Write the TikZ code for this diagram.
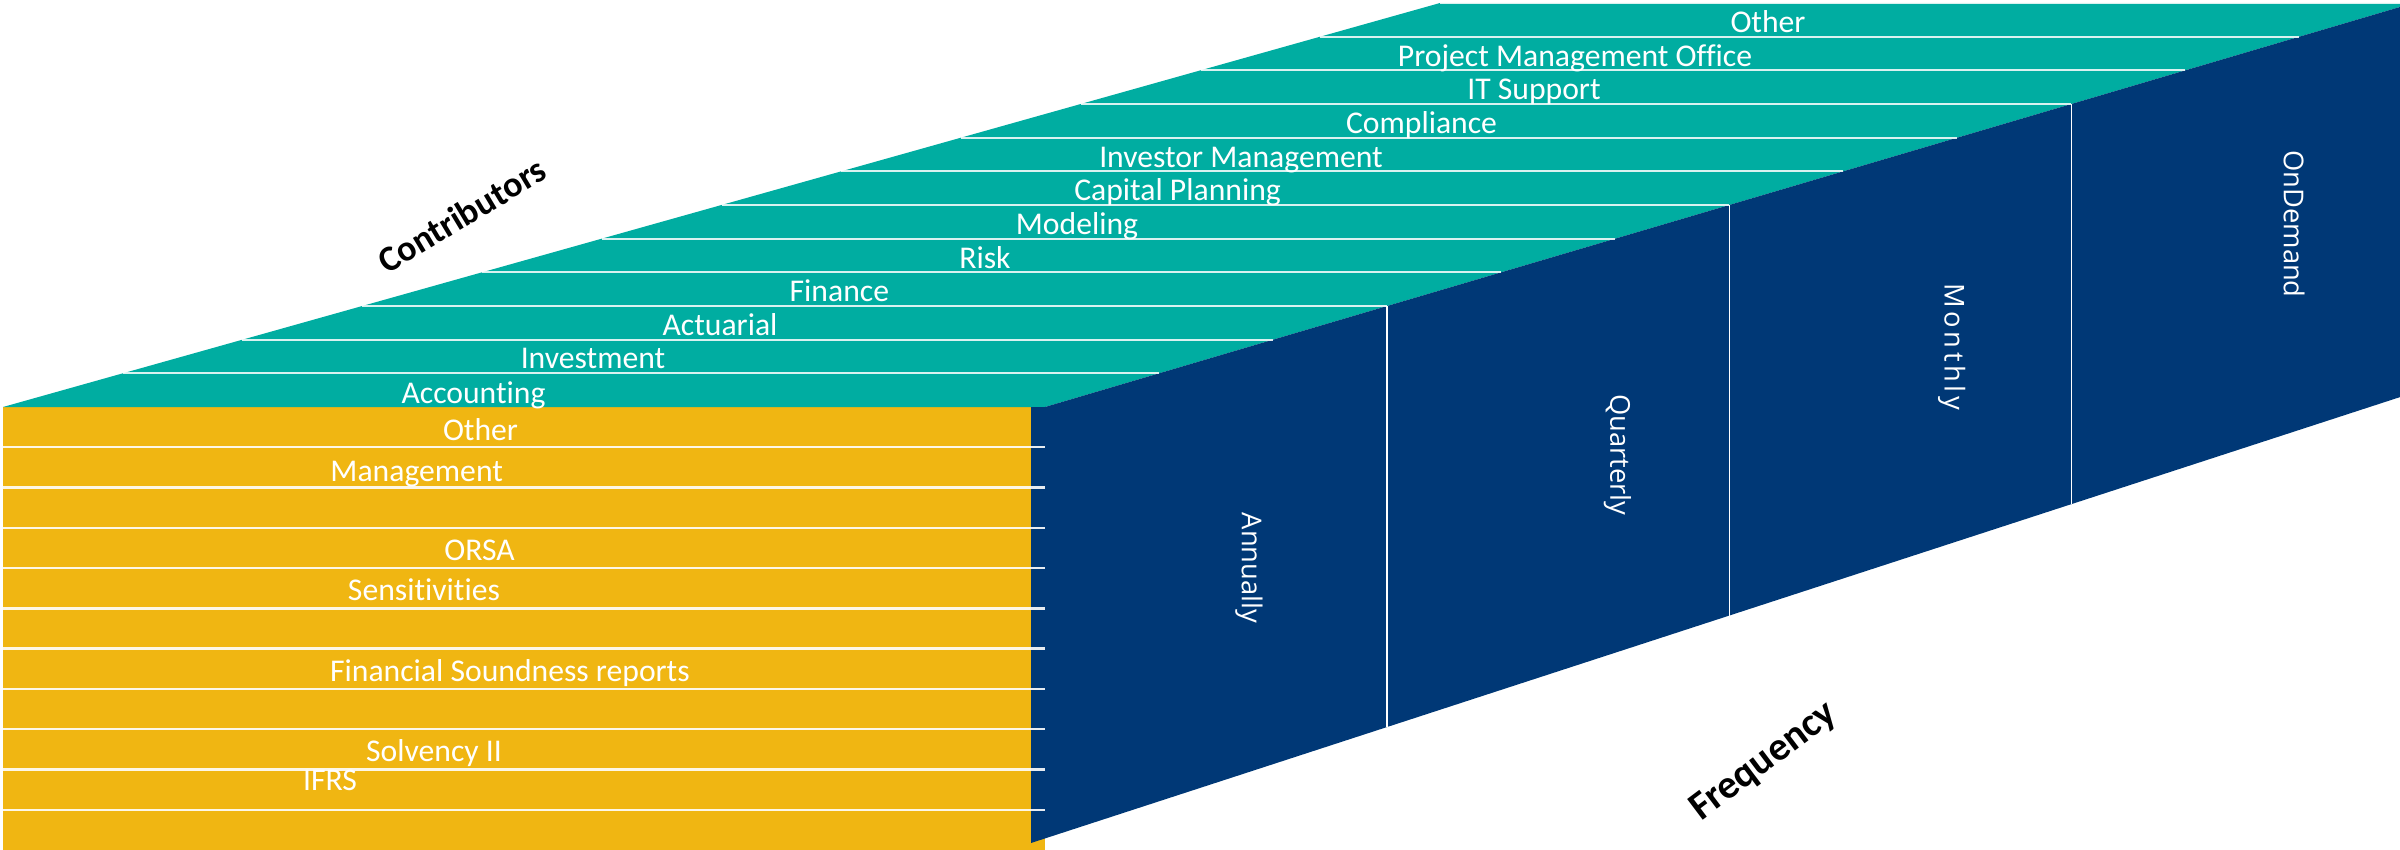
\documentclass[tikz,border=0pt]{standalone}
\usepackage{fontspec}
\setmainfont{Carlito}[Ligatures=NoCommon]
\newfontfamily\sidefont{Open Sans}
\usetikzlibrary{calc}
\definecolor{topteal}{RGB}{0,173,161}
\definecolor{sidenavy}{RGB}{0,56,118}
\definecolor{frontgold}{RGB}{240,182,18}
\begin{document}
\begin{tikzpicture}[x=0.3pt,y=-0.3pt,
  rowline/.style={white, opacity=0.85, line width=0.6pt},
  frontline/.style={white, opacity=0.9, line width=0.7pt},
  divline/.style={white, line width=0.4pt},
  facelabel/.style={text=white, font=\fontsize{9.5}{11}\selectfont, inner sep=0pt, anchor=base},
  sidelabel/.style={text=white, font=\sidefont\fontsize{8.2}{10}\selectfont, inner sep=0pt, rotate=-90},
  axislabel/.style={text=black, inner sep=0pt}]
\useasboundingbox (0,0) rectangle (2400,850);
\clip (0,0) rectangle (2400,850);

% corners of the block
\coordinate (FL) at (3,407);
\coordinate (FR) at (1045,407);
\coordinate (BL) at (1440,3);
\coordinate (BR) at (2413.5,3);
\coordinate (SL) at (1031,407);
\coordinate (SB) at (1031,843);
\coordinate (SF) at (1045,838.4);
\coordinate (SBR) at (2413.5,392.7);
\coordinate (YB) at (1045,850);

% faces
\fill[frontgold] (FL) rectangle (YB);
\fill[topteal] (FL) -- (FR) -- (BR) -- (BL) -- cycle;
\fill[sidenavy] (SL) -- (FR) -- (BR) -- (SBR) -- (SB) -- cycle;

% rows on the top face
\foreach \k in {1,...,12}
  \draw[rowline] ($(FL)!{\k/12}!(BL)$) -- ($(FR)!{\k/12}!(BR)$);

% frequency columns on the side face
\foreach \f in {0.25,0.5,0.75}
  \draw[divline] ($(FR)!\f!(BR)$) -- ($(SF)!\f!(SBR)$);

% rows on the front face
\foreach \k in {1,...,10}
  \draw[frontline] (3,{407+40.27*\k}) -- (1045,{407+40.27*\k});

% contributors (top face)
\node[facelabel] (c1) at (473.5,403) {Accounting};
\node[facelabel] (c2) at (593,368.9) {Investment};
\node[facelabel] (c3) at (720,335.2) {Actuarial};
\node[facelabel] (c4) at (839.4,301.6) {Finance};
\node[facelabel] (c5) at (985,268) {Risk};
\node[facelabel] (c6) at (1077,234.3) {Modeling};
\node[facelabel] (c7) at (1177.6,200.7) {Capital Planning};
\node[facelabel] (c8) at (1241,167) {Investor Management};
\node[facelabel] (c9) at (1421.5,133.4) {Compliance};
\node[facelabel] (c10) at (1534,99.8) {IT Support};
\node[facelabel] (c11) at (1575,66.1) {Project Management Office};
\node[facelabel] (c12) at (1768,32.5) {Other};

% reports (front face)
\node[facelabel] (r1) at (480.5,440) {Other};
\node[facelabel] (r2) at (416.7,481) {Management};
\node[facelabel] (r3) at (479.5,560.7) {ORSA};
\node[facelabel] (r4) at (424,600) {Sensitivities};
\node[facelabel] (r5) at (510,681.7) {Financial Soundness reports};
\node[facelabel] (r6) at (434,761.7) {Solvency II};
\node[facelabel] (r7) at (330,790.7) {IFRS};

% frequencies (side face)
\node[sidelabel] (f1) at (1249,568) {Annually};
\node[sidelabel] (f2) at (1617.5,455) {Quarterly};
\node[sidelabel, font=\sidefont\addfontfeature{LetterSpace=13}\fontsize{8.2}{10}\selectfont] (f3) at (1951.7,346.7) {Monthly};
\node[sidelabel] (f4) at (2294,224) {OnDemand};

% axis titles
\node[axislabel, rotate=31, font=\bfseries\fontsize{10.8}{13}\selectfont] (ax1) at (461.7,215) {Contributors};
\node[axislabel, rotate=37, font=\bfseries\fontsize{12}{14}\selectfont] (ax2) at (1764,762) {Frequency};
\end{tikzpicture}
\end{document}
